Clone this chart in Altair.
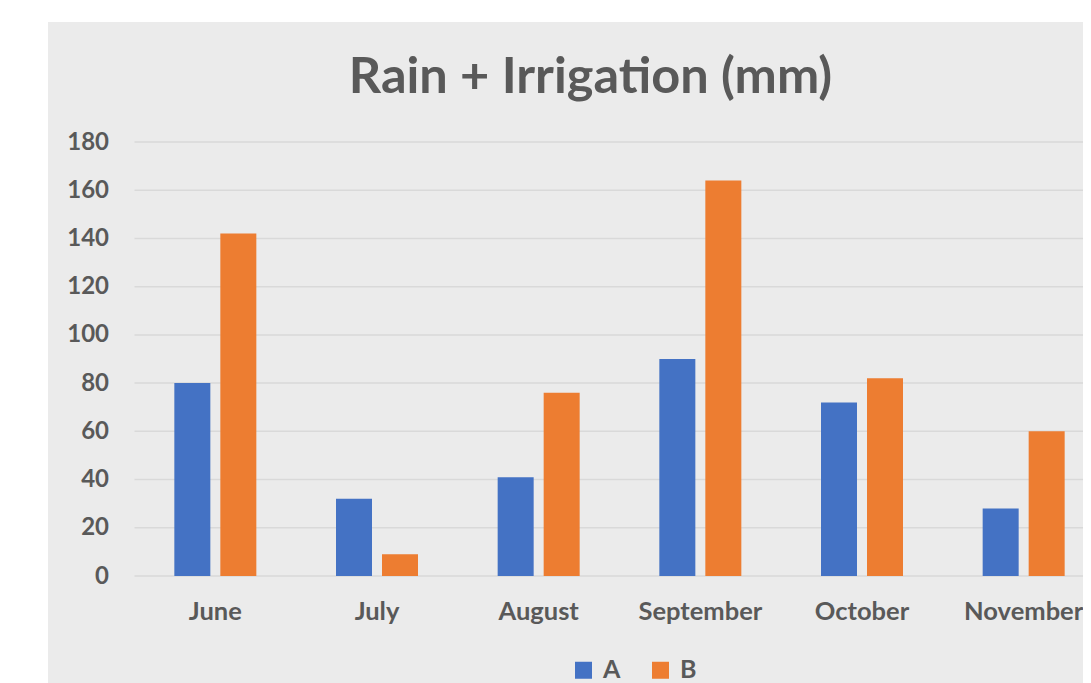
import altair as alt
import pandas as pd

months = ["June", "July", "August", "September", "October", "November"]
series_a = [80, 32, 41, 90, 72, 28]
series_b = [142, 9, 76, 164, 82, 60]
series_names = ["A", "B"]
series_colors = ["#4472C4", "#ED7D31"]
y_ticks = [0, 20, 40, 60, 80, 100, 120, 140, 160, 180]
title_text = "Rain + Irrigation (mm)"

rows = []
for m, a, b in zip(months, series_a, series_b):
    rows.append({"month": m, "series": series_names[0], "value": a})
    rows.append({"month": m, "series": series_names[1], "value": b})
df = pd.DataFrame(rows)

W = 948.5
H = 434
FONT = "Lato"
TXT = "#595959"
BG = "#EBEBEB"
GRID = "#D9D9D9"

y_scale = alt.Scale(domain=[0, 180], nice=False)
y_axis = alt.Axis(
    title=None, values=y_ticks, grid=False, domain=False, ticks=False,
    tickSize=0, labelPadding=26,
    labelFont=FONT, labelFontSize=24, labelFontWeight="bold",
    labelColor=TXT, zindex=1,
)

bg = alt.Chart(pd.DataFrame({"k": [0]})).mark_rect(color=BG).encode(
    x=alt.value(-86.5), x2=alt.value(W), y=alt.value(-120), y2=alt.value(541)
)

grid = alt.Chart(pd.DataFrame({"tick": y_ticks})).mark_rule(
    color=GRID, strokeWidth=1.5
).encode(y=alt.Y("tick:Q", scale=y_scale, axis=y_axis))

bars = alt.Chart(df).mark_bar().encode(
    x=alt.X(
        "month:N",
        sort=months,
        scale=alt.Scale(range=[0, 970], paddingInner=0, paddingOuter=0),
        axis=alt.Axis(
            title=None, labelAngle=0, domain=False, ticks=False, tickSize=0,
            labelPadding=43.5, labelBaseline="alphabetic",
            labelFont=FONT, labelFontSize=25.5, labelFontWeight="bold",
            labelColor=TXT, zindex=1,
        ),
    ),
    xOffset=alt.XOffset(
        "series:N", sort=series_names,
        scale=alt.Scale(paddingInner=0.2174, paddingOuter=0.866),
    ),
    y=alt.Y("value:Q", scale=y_scale, axis=y_axis),
    color=alt.Color(
        "series:N",
        scale=alt.Scale(domain=series_names, range=series_colors),
        legend=alt.Legend(
            title=None, orient="none", legendX=436.5, legendY=515.5,
            direction="horizontal", symbolType="square", symbolSize=289,
            symbolStrokeWidth=0, labelFont=FONT, labelFontSize=25,
            labelFontWeight="bold", labelColor=TXT, labelOffset=7,
            columnPadding=27, padding=0, zindex=1,
        ),
    ),
)

title = alt.Chart(pd.DataFrame({"t": [title_text]})).mark_text(
    font=FONT, fontSize=50.5, fontWeight="bold", color=TXT,
    align="center", baseline="alphabetic",
).encode(text="t:N", x=alt.value(456), y=alt.value(-49.3))

chart = alt.layer(bg, grid, bars, title).properties(
    width=W,
    height=H,
    padding={"left": 126.5, "top": 134, "right": 0, "bottom": 107},
    autosize=alt.AutoSizeParams(type="none"),
    background="white",
).configure_view(stroke=None)

chart.save("out.html", embed_options={"renderer": "svg", "actions": False})
